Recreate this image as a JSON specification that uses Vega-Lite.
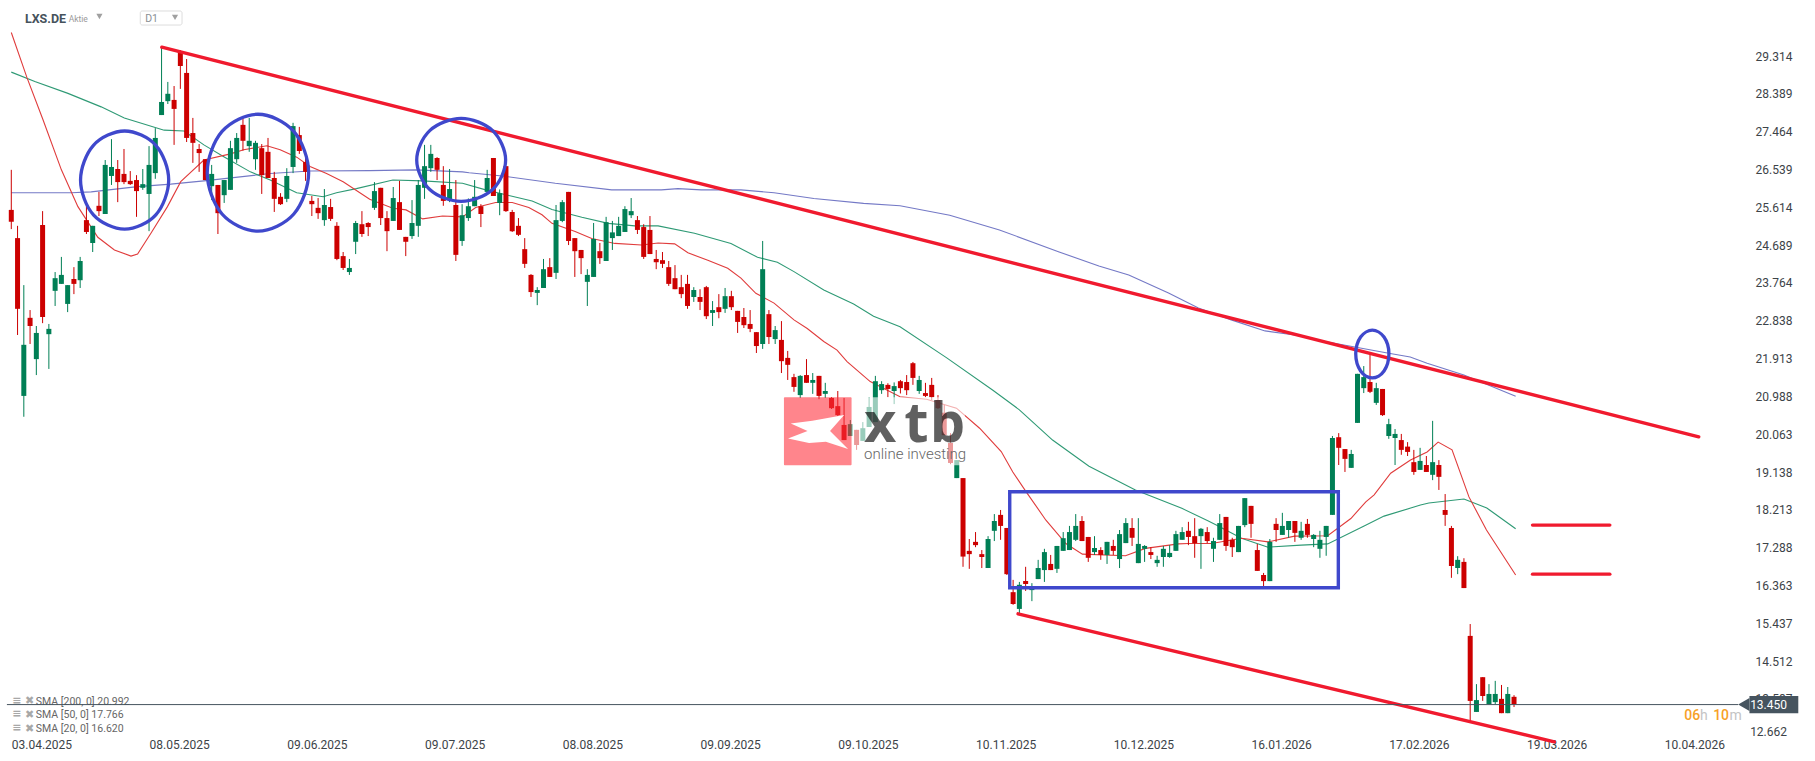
{"$schema":"https://vega.github.io/schema/vega-lite/v6.json","autosize":{"type":"none"},"width":1815,"height":761,"padding":0,"background":"#ffffff","view":{"stroke":null},"config":{"font":"Roboto","text":{"font":"Roboto"}},
"datasets":{
"candles":[
{"i":0,"o":25.55,"h":26.53,"l":25.08,"c":25.26},{"i":1,"o":24.86,"h":25.16,"l":22.49,"c":23.13},{"i":2,"o":21.0,"h":23.71,"l":20.49,"c":22.25},{"i":3,"o":22.91,"h":23.1,"l":22.27,"c":22.71},{"i":4,"o":21.9,"h":22.71,"l":21.51,"c":22.54},{"i":5,"o":25.18,"h":25.52,"l":22.78,"c":22.93},{"i":6,"o":22.51,"h":22.76,"l":21.66,"c":22.64},{"i":7,"o":23.57,"h":24.03,"l":23.2,"c":23.88},{"i":8,"o":23.74,"h":24.4,"l":23.74,"c":23.96},{"i":9,"o":23.25,"h":23.71,"l":23.05,"c":23.71},
{"i":10,"o":23.86,"h":24.15,"l":23.49,"c":23.74},{"i":11,"o":23.83,"h":24.4,"l":23.64,"c":24.3},{"i":12,"o":25.3,"h":25.67,"l":24.96,"c":25.01},{"i":13,"o":24.74,"h":25.16,"l":24.52,"c":25.16},{"i":14,"o":25.65,"h":25.99,"l":25.4,"c":25.52},{"i":15,"o":25.45,"h":26.77,"l":25.45,"c":26.65},{"i":16,"o":26.38,"h":27.28,"l":26.16,"c":26.6},{"i":17,"o":26.55,"h":26.77,"l":25.74,"c":26.23},{"i":18,"o":26.43,"h":27.04,"l":26.18,"c":26.23},{"i":19,"o":26.26,"h":26.5,"l":26.16,"c":26.18},
{"i":20,"o":26.28,"h":26.4,"l":25.38,"c":26.01},{"i":21,"o":26.09,"h":26.55,"l":26.04,"c":26.18},{"i":22,"o":25.94,"h":27.11,"l":25.03,"c":26.65},{"i":23,"o":26.45,"h":27.55,"l":26.31,"c":27.31},{"i":24,"o":27.87,"h":29.54,"l":27.87,"c":28.19},{"i":25,"o":28.21,"h":28.68,"l":28.14,"c":28.39},{"i":26,"o":28.24,"h":28.58,"l":27.14,"c":28.02},{"i":27,"o":29.41,"h":29.46,"l":28.51,"c":29.07},{"i":28,"o":28.9,"h":29.24,"l":27.21,"c":27.31},{"i":29,"o":27.43,"h":27.8,"l":26.7,"c":27.19},
{"i":30,"o":27.04,"h":27.16,"l":26.48,"c":26.94},{"i":31,"o":26.79,"h":26.79,"l":26.28,"c":26.28},{"i":32,"o":26.13,"h":26.65,"l":25.79,"c":26.43},{"i":33,"o":26.16,"h":26.16,"l":24.96,"c":25.47},{"i":34,"o":25.91,"h":26.28,"l":25.72,"c":26.28},{"i":35,"o":26.04,"h":27.24,"l":26.04,"c":27.06},{"i":36,"o":26.79,"h":27.43,"l":26.7,"c":27.31},{"i":37,"o":27.63,"h":27.82,"l":27.0,"c":27.24},{"i":38,"o":27.11,"h":27.8,"l":26.97,"c":27.24},{"i":39,"o":26.79,"h":27.24,"l":26.53,"c":27.19},
{"i":40,"o":27.06,"h":27.16,"l":25.94,"c":26.4},{"i":41,"o":26.97,"h":27.31,"l":26.33,"c":26.33},{"i":42,"o":26.33,"h":26.48,"l":25.5,"c":25.82},{"i":43,"o":25.87,"h":25.96,"l":25.67,"c":25.69},{"i":44,"o":25.82,"h":26.57,"l":25.74,"c":26.38},{"i":45,"o":26.6,"h":27.68,"l":26.45,"c":27.6},{"i":46,"o":27.38,"h":27.58,"l":26.92,"c":26.99},{"i":47,"o":26.72,"h":26.89,"l":26.26,"c":26.48},{"i":48,"o":25.77,"h":25.89,"l":25.4,"c":25.69},{"i":49,"o":25.6,"h":25.84,"l":25.33,"c":25.47},
{"i":50,"o":25.3,"h":26.06,"l":25.16,"c":25.67},{"i":51,"o":25.62,"h":25.82,"l":25.28,"c":25.33},{"i":52,"o":25.16,"h":25.25,"l":24.32,"c":24.35},{"i":53,"o":24.42,"h":24.52,"l":24.08,"c":24.13},{"i":54,"o":24.03,"h":24.35,"l":23.96,"c":24.13},{"i":55,"o":24.77,"h":25.28,"l":24.47,"c":25.23},{"i":56,"o":25.2,"h":25.52,"l":24.89,"c":24.96},{"i":57,"o":25.23,"h":25.25,"l":24.91,"c":25.13},{"i":58,"o":25.6,"h":26.23,"l":25.55,"c":26.01},{"i":59,"o":26.09,"h":26.09,"l":25.18,"c":25.35},
{"i":60,"o":25.35,"h":25.52,"l":24.54,"c":25.03},{"i":61,"o":25.28,"h":26.11,"l":25.28,"c":25.84},{"i":62,"o":25.74,"h":26.26,"l":25.06,"c":25.06},{"i":63,"o":24.89,"h":24.89,"l":24.42,"c":24.77},{"i":64,"o":24.91,"h":25.79,"l":24.84,"c":25.23},{"i":65,"o":25.16,"h":26.28,"l":24.89,"c":26.16},{"i":66,"o":26.09,"h":27.14,"l":25.82,"c":26.62},{"i":67,"o":26.57,"h":27.14,"l":26.48,"c":26.92},{"i":68,"o":26.82,"h":26.84,"l":26.28,"c":26.53},{"i":69,"o":26.16,"h":26.62,"l":25.65,"c":25.77},
{"i":70,"o":25.79,"h":26.55,"l":25.74,"c":26.06},{"i":71,"o":25.67,"h":26.28,"l":24.3,"c":24.45},{"i":72,"o":24.79,"h":25.69,"l":24.67,"c":25.42},{"i":73,"o":25.35,"h":25.83,"l":25.28,"c":25.64},{"i":74,"o":25.64,"h":26.28,"l":25.64,"c":25.87},{"i":75,"o":25.64,"h":25.69,"l":25.13,"c":25.45},{"i":76,"o":25.99,"h":26.53,"l":25.94,"c":26.33},{"i":77,"o":26.82,"h":26.82,"l":25.89,"c":25.89},{"i":78,"o":25.72,"h":26.05,"l":25.42,"c":25.96},{"i":79,"o":26.62,"h":26.62,"l":25.5,"c":25.52},
{"i":80,"o":25.5,"h":25.55,"l":25.01,"c":25.03},{"i":81,"o":25.16,"h":25.35,"l":24.91,"c":24.94},{"i":82,"o":24.59,"h":24.86,"l":24.13,"c":24.23},{"i":83,"o":23.96,"h":23.98,"l":23.42,"c":23.54},{"i":84,"o":23.52,"h":23.66,"l":23.22,"c":23.59},{"i":85,"o":23.64,"h":24.35,"l":23.64,"c":24.1},{"i":86,"o":24.15,"h":24.37,"l":23.91,"c":23.91},{"i":87,"o":24.01,"h":25.67,"l":23.86,"c":25.3},{"i":88,"o":25.28,"h":25.79,"l":25.25,"c":25.74},{"i":89,"o":25.99,"h":25.99,"l":24.69,"c":24.79},
{"i":90,"o":24.86,"h":24.86,"l":23.91,"c":24.54},{"i":91,"o":24.57,"h":24.57,"l":23.98,"c":24.37},{"i":92,"o":23.79,"h":24.1,"l":23.2,"c":23.96},{"i":93,"o":23.91,"h":25.23,"l":23.91,"c":24.84},{"i":94,"o":24.54,"h":24.74,"l":24.23,"c":24.37},{"i":95,"o":24.3,"h":25.38,"l":24.3,"c":25.25},{"i":96,"o":24.86,"h":25.28,"l":24.57,"c":25.0},{"i":97,"o":24.91,"h":25.38,"l":24.91,"c":25.16},{"i":98,"o":25.01,"h":25.64,"l":25.01,"c":25.57},{"i":99,"o":25.42,"h":25.84,"l":25.35,"c":25.52},
{"i":100,"o":25.3,"h":25.4,"l":24.96,"c":25.06},{"i":101,"o":25.13,"h":25.2,"l":24.35,"c":24.4},{"i":102,"o":25.06,"h":25.4,"l":24.47,"c":24.47},{"i":103,"o":24.35,"h":24.57,"l":24.1,"c":24.27},{"i":104,"o":24.32,"h":24.52,"l":24.13,"c":24.23},{"i":105,"o":24.15,"h":24.3,"l":23.69,"c":23.74},{"i":106,"o":23.88,"h":24.2,"l":23.61,"c":23.61},{"i":107,"o":23.66,"h":23.96,"l":23.39,"c":23.49},{"i":108,"o":23.74,"h":23.96,"l":23.13,"c":23.2},{"i":109,"o":23.42,"h":23.66,"l":23.3,"c":23.59},
{"i":110,"o":23.42,"h":23.61,"l":23.1,"c":23.3},{"i":111,"o":23.66,"h":23.69,"l":22.88,"c":22.95},{"i":112,"o":23.03,"h":23.32,"l":22.71,"c":23.1},{"i":113,"o":23.17,"h":23.49,"l":22.9,"c":23.05},{"i":114,"o":23.13,"h":23.64,"l":23.03,"c":23.44},{"i":115,"o":23.44,"h":23.57,"l":23.1,"c":23.17},{"i":116,"o":23.08,"h":23.08,"l":22.54,"c":22.81},{"i":117,"o":22.93,"h":23.15,"l":22.66,"c":22.73},{"i":118,"o":22.76,"h":23.1,"l":22.56,"c":22.64},{"i":119,"o":22.56,"h":22.56,"l":22.05,"c":22.22},
{"i":120,"o":22.27,"h":24.79,"l":22.15,"c":24.1},{"i":121,"o":23.0,"h":23.1,"l":22.27,"c":22.44},{"i":122,"o":22.39,"h":22.71,"l":22.27,"c":22.61},{"i":123,"o":22.37,"h":22.83,"l":21.56,"c":21.85},{"i":124,"o":21.93,"h":22.1,"l":21.39,"c":21.76},{"i":125,"o":21.46,"h":21.54,"l":21.1,"c":21.22},{"i":126,"o":21.02,"h":21.51,"l":20.95,"c":21.49},{"i":127,"o":21.51,"h":21.9,"l":21.32,"c":21.32},{"i":128,"o":21.32,"h":21.56,"l":21.05,"c":21.39},{"i":129,"o":21.49,"h":21.49,"l":20.92,"c":21.0},
{"i":130,"o":21.05,"h":21.32,"l":20.95,"c":21.12},{"i":131,"o":20.95,"h":20.97,"l":20.68,"c":20.7},{"i":132,"o":20.75,"h":21.12,"l":20.51,"c":20.53},{"i":133,"o":20.29,"h":20.95,"l":19.92,"c":19.92},{"i":134,"o":20.02,"h":20.41,"l":20.02,"c":20.31},{"i":135,"o":20.17,"h":20.17,"l":19.68,"c":19.8},{"i":136,"o":19.9,"h":20.36,"l":19.9,"c":20.21},{"i":137,"o":20.24,"h":20.97,"l":20.24,"c":20.73},{"i":138,"o":20.36,"h":21.49,"l":20.36,"c":21.36},{"i":139,"o":21.14,"h":21.36,"l":21.05,"c":21.29},
{"i":140,"o":21.27,"h":21.31,"l":20.97,"c":21.17},{"i":141,"o":21.12,"h":21.33,"l":20.8,"c":21.24},{"i":142,"o":21.36,"h":21.39,"l":21.06,"c":21.19},{"i":143,"o":21.34,"h":21.51,"l":21.02,"c":21.14},{"i":144,"o":21.8,"h":21.83,"l":21.27,"c":21.44},{"i":145,"o":21.12,"h":21.49,"l":21.05,"c":21.39},{"i":146,"o":21.07,"h":21.32,"l":20.97,"c":21.0},{"i":147,"o":21.27,"h":21.44,"l":20.9,"c":20.97},{"i":148,"o":20.9,"h":21.02,"l":20.68,"c":20.7},{"i":149,"o":20.59,"h":20.78,"l":20.04,"c":20.04},
{"i":150,"o":19.85,"h":20.09,"l":19.33,"c":19.36},{"i":151,"o":18.99,"h":19.43,"l":18.99,"c":19.43},{"i":152,"o":18.99,"h":18.99,"l":16.82,"c":17.07},{"i":153,"o":17.21,"h":17.5,"l":16.77,"c":17.13},{"i":154,"o":17.43,"h":17.67,"l":17.3,"c":17.35},{"i":155,"o":17.13,"h":17.23,"l":16.79,"c":17.06},{"i":156,"o":16.79,"h":17.57,"l":16.79,"c":17.5},{"i":157,"o":17.7,"h":18.11,"l":17.45,"c":17.94},{"i":158,"o":18.09,"h":18.21,"l":17.48,"c":17.82},{"i":159,"o":17.77,"h":17.77,"l":16.62,"c":16.64},
{"i":160,"o":16.2,"h":16.5,"l":15.89,"c":15.91},{"i":161,"o":15.79,"h":16.45,"l":15.67,"c":16.38},{"i":162,"o":16.47,"h":16.82,"l":16.23,"c":16.4},{"i":163,"o":16.25,"h":16.42,"l":15.98,"c":16.3},{"i":164,"o":16.52,"h":16.99,"l":16.52,"c":16.79},{"i":165,"o":16.74,"h":17.26,"l":16.45,"c":17.18},{"i":166,"o":16.89,"h":17.11,"l":16.74,"c":16.74},{"i":167,"o":16.77,"h":17.33,"l":16.67,"c":17.33},{"i":168,"o":17.21,"h":17.67,"l":17.21,"c":17.52},{"i":169,"o":17.23,"h":17.82,"l":17.23,"c":17.67},
{"i":170,"o":17.48,"h":18.11,"l":17.45,"c":17.82},{"i":171,"o":17.94,"h":18.06,"l":17.45,"c":17.45},{"i":172,"o":17.55,"h":17.55,"l":16.94,"c":17.04},{"i":173,"o":17.18,"h":17.57,"l":17.11,"c":17.28},{"i":174,"o":17.23,"h":17.3,"l":16.99,"c":17.11},{"i":175,"o":17.11,"h":17.43,"l":16.89,"c":17.43},{"i":176,"o":17.33,"h":17.48,"l":17.11,"c":17.21},{"i":177,"o":17.01,"h":17.72,"l":16.79,"c":17.62},{"i":178,"o":17.4,"h":18.01,"l":17.4,"c":17.89},{"i":179,"o":17.77,"h":18.01,"l":17.33,"c":17.53},
{"i":180,"o":16.91,"h":18.01,"l":16.91,"c":17.38},{"i":181,"o":17.26,"h":17.35,"l":16.94,"c":17.33},{"i":182,"o":17.18,"h":17.3,"l":17.01,"c":17.11},{"i":183,"o":16.91,"h":17.09,"l":16.82,"c":16.99},{"i":184,"o":17.06,"h":17.33,"l":16.82,"c":17.26},{"i":185,"o":17.06,"h":17.35,"l":17.04,"c":17.16},{"i":186,"o":17.21,"h":17.7,"l":17.21,"c":17.62},{"i":187,"o":17.48,"h":17.79,"l":17.48,"c":17.67},{"i":188,"o":17.7,"h":17.92,"l":17.35,"c":17.55},{"i":189,"o":17.57,"h":18.01,"l":17.04,"c":17.4},
{"i":190,"o":17.57,"h":17.77,"l":16.77,"c":17.75},{"i":191,"o":17.67,"h":17.79,"l":17.4,"c":17.45},{"i":192,"o":17.26,"h":17.53,"l":16.94,"c":17.45},{"i":193,"o":17.48,"h":18.11,"l":17.48,"c":17.89},{"i":194,"o":18.04,"h":18.04,"l":17.21,"c":17.33},{"i":195,"o":17.48,"h":17.53,"l":17.06,"c":17.3},{"i":196,"o":17.18,"h":17.82,"l":17.18,"c":17.82},{"i":197,"o":17.84,"h":18.5,"l":17.79,"c":18.5},{"i":198,"o":18.31,"h":18.31,"l":17.53,"c":17.87},{"i":199,"o":17.23,"h":17.38,"l":16.72,"c":16.72},
{"i":200,"o":16.62,"h":16.67,"l":16.35,"c":16.47},{"i":201,"o":16.47,"h":17.5,"l":16.47,"c":17.43},{"i":202,"o":17.87,"h":18.01,"l":17.43,"c":17.72},{"i":203,"o":17.6,"h":18.14,"l":17.6,"c":17.82},{"i":204,"o":17.72,"h":17.94,"l":17.53,"c":17.94},{"i":205,"o":17.94,"h":17.94,"l":17.43,"c":17.65},{"i":206,"o":17.53,"h":17.92,"l":17.48,"c":17.7},{"i":207,"o":17.87,"h":17.99,"l":17.53,"c":17.6},{"i":208,"o":17.5,"h":17.62,"l":17.3,"c":17.6},{"i":209,"o":17.26,"h":17.7,"l":17.04,"c":17.48},
{"i":210,"o":17.55,"h":17.82,"l":17.09,"c":17.82},{"i":211,"o":18.09,"h":20.02,"l":18.09,"c":19.97},{"i":212,"o":19.99,"h":20.09,"l":19.31,"c":19.73},{"i":213,"o":19.7,"h":19.7,"l":19.14,"c":19.46},{"i":214,"o":19.24,"h":19.68,"l":19.24,"c":19.58},{"i":215,"o":20.34,"h":21.54,"l":20.34,"c":21.54},{"i":216,"o":21.19,"h":21.73,"l":21.07,"c":21.46},{"i":217,"o":21.34,"h":22.04,"l":21.07,"c":21.1},{"i":218,"o":20.83,"h":21.32,"l":20.78,"c":21.19},{"i":219,"o":21.17,"h":21.17,"l":20.51,"c":20.53},
{"i":220,"o":20.02,"h":20.44,"l":19.95,"c":20.31},{"i":221,"o":19.97,"h":20.19,"l":19.31,"c":20.07},{"i":222,"o":19.92,"h":20.07,"l":19.56,"c":19.68},{"i":223,"o":19.76,"h":19.87,"l":19.53,"c":19.63},{"i":224,"o":19.38,"h":19.68,"l":19.07,"c":19.14},{"i":225,"o":19.19,"h":19.73,"l":19.19,"c":19.41},{"i":226,"o":19.31,"h":19.53,"l":19.14,"c":19.14},{"i":227,"o":19.07,"h":20.39,"l":18.94,"c":19.38},{"i":228,"o":19.31,"h":19.43,"l":18.7,"c":19.02},{"i":229,"o":18.21,"h":18.6,"l":17.82,"c":18.09},
{"i":230,"o":17.77,"h":17.82,"l":16.55,"c":16.84},{"i":231,"o":16.79,"h":17.08,"l":16.64,"c":16.99},{"i":232,"o":16.94,"h":17.03,"l":16.3,"c":16.3},{"i":233,"o":15.13,"h":15.42,"l":13.02,"c":13.54},{"i":234,"o":13.27,"h":13.95,"l":13.27,"c":13.56},{"i":235,"o":14.12,"h":14.12,"l":13.54,"c":13.66},{"i":236,"o":13.46,"h":13.95,"l":13.46,"c":13.71},{"i":237,"o":13.51,"h":14.03,"l":13.46,"c":13.71},{"i":238,"o":13.59,"h":13.93,"l":13.24,"c":13.24},{"i":239,"o":13.24,"h":13.88,"l":13.24,"c":13.71},{"i":240,"o":13.64,"h":13.68,"l":13.39,"c":13.46}
],
"sma20":[{"i":0,"p":29.89},{"i":2.49,"p":28.79},{"i":5.08,"p":27.75},{"i":8,"p":26.53},{"i":10.64,"p":25.63},{"i":13.82,"p":24.88},{"i":16.47,"p":24.57},{"i":19.12,"p":24.42},{"i":20.17,"p":24.47},{"i":22.3,"p":24.98},{"i":24.94,"p":25.63},{"i":27.06,"p":26.24},{"i":30.76,"p":26.77},{"i":35,"p":26.92},{"i":37.11,"p":27.02},{"i":40.82,"p":27.12},{"i":42.94,"p":27.02},{"i":45.58,"p":26.84},{"i":47.71,"p":26.61},{"i":50.35,"p":26.44},{"i":53,"p":26.24},{"i":57.24,"p":25.81},{"i":60.94,"p":25.59},{"i":63.05,"p":25.55},{"i":65.7,"p":25.33},{"i":68.88,"p":25.4},{"i":72.06,"p":25.38},{"i":74.17,"p":25.61},{"i":77.35,"p":25.73},{"i":80,"p":25.73},{"i":82.65,"p":25.61},{"i":84.76,"p":25.43},{"i":86.35,"p":25.22},{"i":90.05,"p":25.02},{"i":92.7,"p":24.85},{"i":96.41,"p":24.73},{"i":100.65,"p":24.69},{"i":103.3,"p":24.74},{"i":105.95,"p":24.72},{"i":108.06,"p":24.5},{"i":111.24,"p":24.32},{"i":114.42,"p":24.12},{"i":116.53,"p":23.88},{"i":118.91,"p":23.51},{"i":121.82,"p":23.27},{"i":125,"p":22.86},{"i":127.12,"p":22.65},{"i":129.76,"p":22.33},{"i":131.88,"p":22.12},{"i":133.48,"p":21.84},{"i":137.18,"p":21.35},{"i":141.94,"p":20.98},{"i":146.18,"p":20.92},{"i":150.95,"p":20.7},{"i":154.65,"p":20.21},{"i":158.1,"p":19.64},{"i":159.95,"p":19.14},{"i":162.06,"p":18.66},{"i":165.24,"p":17.96},{"i":168.42,"p":17.39},{"i":171.06,"p":17.13},{"i":177.95,"p":17.09},{"i":181.13,"p":17.27},{"i":186.42,"p":17.38},{"i":188,"p":17.39},{"i":191.7,"p":17.39},{"i":196.47,"p":17.52},{"i":200.71,"p":17.43},{"i":204.95,"p":17.57},{"i":210.24,"p":17.58},{"i":213.94,"p":18.0},{"i":216.33,"p":18.41},{"i":217.66,"p":18.58},{"i":220.3,"p":19.11},{"i":223.47,"p":19.43},{"i":226.12,"p":19.63},{"i":227.88,"p":19.87},{"i":230.1,"p":19.68},{"i":232.8,"p":18.53},{"i":235.6,"p":17.72},{"i":240.26,"p":16.62}],
"sma50":[{"i":0,"p":28.92},{"i":3.76,"p":28.69},{"i":9.05,"p":28.4},{"i":14.35,"p":28.07},{"i":18.05,"p":27.8},{"i":24.41,"p":27.5},{"i":27.58,"p":27.48},{"i":30.76,"p":27.14},{"i":33.94,"p":26.85},{"i":38.18,"p":26.48},{"i":41.35,"p":26.28},{"i":45.58,"p":25.97},{"i":49.82,"p":25.87},{"i":51.94,"p":25.97},{"i":55.11,"p":26.07},{"i":60.94,"p":26.28},{"i":65.7,"p":26.26},{"i":72.06,"p":26.2},{"i":75.76,"p":26.04},{"i":79.47,"p":25.9},{"i":83.18,"p":25.77},{"i":86.35,"p":25.56},{"i":91.12,"p":25.37},{"i":95.35,"p":25.22},{"i":99.58,"p":25.16},{"i":103.3,"p":25.16},{"i":109.11,"p":24.98},{"i":114.94,"p":24.73},{"i":119.18,"p":24.39},{"i":122.35,"p":24.27},{"i":125,"p":24.04},{"i":129.76,"p":23.59},{"i":134.53,"p":23.25},{"i":137.71,"p":22.95},{"i":141.94,"p":22.69},{"i":149.4,"p":21.93},{"i":156.77,"p":21.14},{"i":161,"p":20.66},{"i":166.3,"p":19.92},{"i":172.12,"p":19.28},{"i":179.53,"p":18.7},{"i":186.94,"p":18.25},{"i":191.18,"p":17.94},{"i":192.76,"p":17.82},{"i":196.47,"p":17.52},{"i":200.71,"p":17.3},{"i":206,"p":17.35},{"i":210.24,"p":17.38},{"i":216.06,"p":17.82},{"i":219.24,"p":18.06},{"i":225.06,"p":18.33},{"i":226.4,"p":18.38},{"i":232,"p":18.48},{"i":235.65,"p":18.26},{"i":240.26,"p":17.75}],
"sma200":[{"i":0,"p":25.97},{"i":9.58,"p":25.97},{"i":12.76,"p":25.99},{"i":20.17,"p":26.12},{"i":25.47,"p":26.18},{"i":30.76,"p":26.26},{"i":41.35,"p":26.44},{"i":47.71,"p":26.5},{"i":57.24,"p":26.51},{"i":64.64,"p":26.53},{"i":72.06,"p":26.48},{"i":73.12,"p":26.46},{"i":78.41,"p":26.38},{"i":86.88,"p":26.2},{"i":95.88,"p":26.04},{"i":103.82,"p":26.04},{"i":106.47,"p":26.07},{"i":110.18,"p":26.04},{"i":116.53,"p":26.04},{"i":121.82,"p":25.97},{"i":128.18,"p":25.83},{"i":136.12,"p":25.71},{"i":141.94,"p":25.65},{"i":149.88,"p":25.42},{"i":157.82,"p":25.06},{"i":167.35,"p":24.52},{"i":173.7,"p":24.18},{"i":178.47,"p":23.96},{"i":184.82,"p":23.52},{"i":189.59,"p":23.15},{"i":194.83,"p":22.86},{"i":200.24,"p":22.59},{"i":205,"p":22.49},{"i":210.24,"p":22.32},{"i":219.77,"p":22.05},{"i":223.42,"p":21.95},{"i":226.12,"p":21.8},{"i":232,"p":21.51},{"i":240.26,"p":20.99}],
"circles":[
{"e":1,"n":0,"i":25.14,"p":26.28},{"e":1,"n":1,"i":23.08,"p":27.13},{"e":1,"n":2,"i":18.1,"p":27.48},{"e":1,"n":3,"i":13.12,"p":27.13},{"e":1,"n":4,"i":11.06,"p":26.28},{"e":1,"n":5,"i":13.12,"p":25.43},{"e":1,"n":6,"i":18.1,"p":25.08},{"e":1,"n":7,"i":23.08,"p":25.43},
{"e":2,"n":0,"i":47.49,"p":26.46},{"e":2,"n":1,"i":45.12,"p":27.47},{"e":2,"n":2,"i":39.39,"p":27.89},{"e":2,"n":3,"i":33.66,"p":27.47},{"e":2,"n":4,"i":31.29,"p":26.46},{"e":2,"n":5,"i":33.66,"p":25.45},{"e":2,"n":6,"i":39.39,"p":25.03},{"e":2,"n":7,"i":45.12,"p":25.45},
{"e":3,"n":0,"i":78.95,"p":26.77},{"e":3,"n":1,"i":76.87,"p":27.49},{"e":3,"n":2,"i":71.85,"p":27.79},{"e":3,"n":3,"i":66.83,"p":27.49},{"e":3,"n":4,"i":64.75,"p":26.77},{"e":3,"n":5,"i":66.83,"p":26.05},{"e":3,"n":6,"i":71.85,"p":25.76},{"e":3,"n":7,"i":76.87,"p":26.05},
{"e":4,"n":0,"i":220.02,"p":22.03},{"e":4,"n":1,"i":219.24,"p":22.44},{"e":4,"n":2,"i":217.37,"p":22.61},{"e":4,"n":3,"i":215.5,"p":22.44},{"e":4,"n":4,"i":214.72,"p":22.03},{"e":4,"n":5,"i":215.5,"p":21.61},{"e":4,"n":6,"i":217.37,"p":21.44},{"e":4,"n":7,"i":219.24,"p":21.61}
],
"trends":[{"i":24.04,"i2":269.5,"p":29.53,"p2":20.0},{"i":160.79,"i2":246.45,"p":15.67,"p2":12.54},{"i":242.96,"i2":255.3,"p":17.84,"p2":17.84},{"i":242.96,"i2":255.3,"p":16.64,"p2":16.64}]
},
"layer":[
{"data":{"name":"sma200"},"mark":{"type":"line","color":"#7479c6","strokeWidth":1.1},"encoding":{
"x":{"field":"i","type":"quantitative","title":null,"scale":{"domain":[-1.005,287.27],"nice":false,"zero":false},"axis":{"orient":"bottom","offset":-22,"title":null,"domain":false,"ticks":false,"grid":false,"labelPadding":0,"labelAlign":"left","labelBaseline":"top","labelFontSize":12,"labelColor":"#3c4348","labelFont":"Roboto","labelFlush":false,"labelOverlap":false,"labelBound":false,"values":[0,22,44,66,88,110,132,154,176,198,220,242,264],"labelExpr":"['03.04.2025','08.05.2025','09.06.2025','09.07.2025','08.08.2025','09.09.2025','09.10.2025','10.11.2025','10.12.2025','16.01.2026','17.02.2026','19.03.2026','10.04.2026'][round(datum.value/22)]"}},
"y":{"field":"p","type":"quantitative","title":null,"scale":{"domain":[12.07,30.684],"nice":false,"zero":false},"axis":{"orient":"left","offset":-1792,"title":null,"domain":false,"ticks":false,"grid":false,"labelPadding":0,"labelFontSize":12,"labelColor":"#3c4348","labelFont":"Roboto","labelOverlap":false,"labelBound":false,"format":".3f","values":[29.314,28.389,27.464,26.539,25.614,24.689,23.764,22.838,21.913,20.988,20.063,19.138,18.213,17.288,16.363,15.437,14.512,13.587]}}}},
{"data":{"name":"sma50"},"mark":{"type":"line","color":"#2f9a75","strokeWidth":1.1},"encoding":{"x":{"field":"i","type":"quantitative"},"y":{"field":"p","type":"quantitative"}}},
{"data":{"name":"sma20"},"mark":{"type":"line","color":"#e03c3c","strokeWidth":1.1},"encoding":{"x":{"field":"i","type":"quantitative"},"y":{"field":"p","type":"quantitative"}}},
{"data":{"name":"candles"},"mark":{"type":"rule","strokeWidth":1},"encoding":{"x":{"field":"i","type":"quantitative"},"y":{"field":"h","type":"quantitative"},"y2":{"field":"l"},"color":{"condition":{"test":"datum.c>datum.o","value":"#007f55"},"value":"#cc0000"}}},
{"data":{"name":"candles"},"mark":{"type":"bar","size":5,"orient":"vertical"},"encoding":{"x":{"field":"i","type":"quantitative"},"y":{"field":"o","type":"quantitative"},"y2":{"field":"c"},"color":{"condition":{"test":"datum.c>datum.o","value":"#007f55"},"value":"#cc0000"}}},
{"data":{"name":"trends"},"mark":{"type":"rule","color":"#f01a2e","strokeWidth":3.4,"strokeCap":"round"},"encoding":{"x":{"field":"i","type":"quantitative"},"x2":{"field":"i2"},"y":{"field":"p","type":"quantitative"},"y2":{"field":"p2"}}},
{"data":{"name":"circles"},"mark":{"type":"line","color":"#3f48cc","strokeWidth":3.3,"interpolate":"cardinal-closed"},"encoding":{"x":{"field":"i","type":"quantitative"},"y":{"field":"p","type":"quantitative"},"detail":{"field":"e"},"order":{"field":"n"}}},
{"data":{"values":[{"i":159.46,"i2":211.94,"p":18.657,"p2":16.309}]},"mark":{"type":"rect","fillOpacity":0,"stroke":"#3f48cc","strokeWidth":3.4},"encoding":{"x":{"field":"i","type":"quantitative"},"x2":{"field":"i2"},"y":{"field":"p","type":"quantitative"},"y2":{"field":"p2"}}},
{"data":{"values":[{"i":134.2,"i2":152.3,"p":20.966,"p2":19.302}]},"mark":{"type":"rect","fill":"#ffffff","opacity":0.6},"encoding":{"x":{"field":"i","type":"quantitative"},"x2":{"field":"i2"},"y":{"field":"p","type":"quantitative"},"y2":{"field":"p2"}}},
{"data":{"values":[{"i":123.4,"i2":134.2,"p":20.966,"p2":19.302}]},"mark":{"type":"rect","fill":"#ff2f3b","opacity":0.59,"cornerRadius":1},"encoding":{"x":{"field":"i","type":"quantitative"},"x2":{"field":"i2"},"y":{"field":"p","type":"quantitative"},"y2":{"field":"p2"}}},
{"data":{"values":[{"i":128.75,"p":20.12}]},"mark":{"type":"point","filled":true,"opacity":1,"fill":"#ffffff","size":3600,"shape":"M-0.89,-0.28L-0.17,-0.37L0.89,-0.56L0.42,-0.03L1.02,0.57L0.28,0.33L-0.28,0.37L-0.98,0.22L-0.33,-0.03Z"},"encoding":{"x":{"field":"i","type":"quantitative"},"y":{"field":"p","type":"quantitative"}}},
{"data":{"values":[{"i":136.2,"p":19.88,"t":"x"},{"i":142.6,"p":19.88,"t":"t"},{"i":146.7,"p":19.88,"t":"b"}]},"mark":{"type":"text","font":"Open Sans","fontWeight":"bold","fontSize":56,"align":"left","baseline":"alphabetic","color":"#000000","opacity":0.62},"encoding":{"x":{"field":"i","type":"quantitative"},"y":{"field":"p","type":"quantitative"},"text":{"field":"t"}}},
{"data":{"values":[{"i":136.2,"p":19.46,"t":"online investing"}]},"mark":{"type":"text","font":"Roboto","fontWeight":300,"fontSize":15,"align":"left","baseline":"alphabetic","color":"#666666"},"encoding":{"x":{"field":"i","type":"quantitative"},"y":{"field":"p","type":"quantitative"},"text":{"field":"t"}}},
{"data":{"values":[{"i":2.17,"p":30.226,"t":"LXS.DE"}]},"mark":{"type":"text","font":"Roboto","fontWeight":"bold","fontSize":12.5,"align":"left","color":"#46525c"},"encoding":{"x":{"field":"i","type":"quantitative"},"y":{"field":"p","type":"quantitative"},"text":{"field":"t"}}},
{"data":{"values":[{"i":9.16,"p":30.22,"t":"Aktie"}]},"mark":{"type":"text","font":"Roboto","fontSize":8.5,"align":"left","color":"#9a9a9a"},"encoding":{"x":{"field":"i","type":"quantitative"},"y":{"field":"p","type":"quantitative"},"text":{"field":"t"}}},
{"data":{"values":[{"i":20.6,"i2":27.27,"p":30.415,"p2":30.072}]},"mark":{"type":"rect","fill":"#ffffff","stroke":"#dddddd","strokeWidth":1,"cornerRadius":2},"encoding":{"x":{"field":"i","type":"quantitative"},"x2":{"field":"i2"},"y":{"field":"p","type":"quantitative"},"y2":{"field":"p2"}}},
{"data":{"values":[{"i":21.39,"p":30.22,"t":"D1"}]},"mark":{"type":"text","font":"Roboto","fontSize":10.5,"align":"left","color":"#8a8f94"},"encoding":{"x":{"field":"i","type":"quantitative"},"y":{"field":"p","type":"quantitative"},"text":{"field":"t"}}},
{"data":{"values":[{"i":14.08,"p":30.28},{"i":26.15,"p":30.26}]},"mark":{"type":"point","shape":"triangle-down","filled":true,"opacity":1,"color":"#a0a0a0","size":38},"encoding":{"x":{"field":"i","type":"quantitative"},"y":{"field":"p","type":"quantitative"}}},
{"data":{"values":[{"i":3.92,"p":13.52,"t":"SMA  [200,  0]  20.992"},{"i":3.92,"p":13.19,"t":"SMA  [50,  0]  17.766"},{"i":3.92,"p":12.845,"t":"SMA  [20,  0]  16.620"}]},"mark":{"type":"text","font":"Roboto","fontSize":10.5,"align":"left","color":"#666666"},"encoding":{"x":{"field":"i","type":"quantitative"},"y":{"field":"p","type":"quantitative"},"text":{"field":"t"}}},
{"data":{"values":[{"i":0.15,"p":13.54,"t":"≡"},{"i":0.15,"p":13.21,"t":"≡"},{"i":0.15,"p":12.865,"t":"≡"},{"i":2.2,"p":13.53,"t":"✖"},{"i":2.2,"p":13.2,"t":"✖"},{"i":2.2,"p":12.855,"t":"✖"}]},"mark":{"type":"text","font":"DejaVu Sans","fontWeight":"bold","fontSize":11,"align":"left","color":"#a8a8a8"},"encoding":{"x":{"field":"i","type":"quantitative"},"y":{"field":"p","type":"quantitative"},"text":{"field":"t"}}},
{"data":{"values":[{"i":-0.7,"i2":275.8,"p":13.45,"p2":13.45}]},"mark":{"type":"rule","color":"#46545f","strokeWidth":1},"encoding":{"x":{"field":"i","type":"quantitative"},"x2":{"field":"i2"},"y":{"field":"p","type":"quantitative"},"y2":{"field":"p2"}}},
{"data":{"values":[{"i":277.6,"i2":285.4,"p":13.66,"p2":13.24}]},"mark":{"type":"rect","fill":"#46545f"},"encoding":{"x":{"field":"i","type":"quantitative"},"x2":{"field":"i2"},"y":{"field":"p","type":"quantitative"},"y2":{"field":"p2"}}},
{"data":{"values":[{"i":276.7,"p":13.45}]},"mark":{"type":"point","shape":"triangle-left","filled":true,"opacity":1,"color":"#46545f","size":170},"encoding":{"x":{"field":"i","type":"quantitative"},"y":{"field":"p","type":"quantitative"}}},
{"data":{"values":[{"i":283.6,"p":13.43,"t":"13.450"}]},"mark":{"type":"text","font":"Roboto","fontSize":12,"align":"right","color":"#ffffff"},"encoding":{"x":{"field":"i","type":"quantitative"},"y":{"field":"p","type":"quantitative"},"text":{"field":"t"}}},
{"data":{"values":[{"i":283.6,"p":12.662,"t":"12.662"}]},"mark":{"type":"text","font":"Roboto","fontSize":12,"align":"right","color":"#3c4348","dy":-5},"encoding":{"x":{"field":"i","type":"quantitative"},"y":{"field":"p","type":"quantitative"},"text":{"field":"t"}}},
{"data":{"values":[{"i":267.2,"p":13.17,"t":"06"},{"i":271.8,"p":13.17,"t":"10"}]},"mark":{"type":"text","font":"Roboto","fontWeight":500,"fontSize":14,"align":"left","color":"#f7a128"},"encoding":{"x":{"field":"i","type":"quantitative"},"y":{"field":"p","type":"quantitative"},"text":{"field":"t"}}},
{"data":{"values":[{"i":269.7,"p":13.17,"t":"h"},{"i":274.4,"p":13.17,"t":"m"}]},"mark":{"type":"text","font":"Roboto","fontSize":14,"align":"left","color":"#c4c4c4"},"encoding":{"x":{"field":"i","type":"quantitative"},"y":{"field":"p","type":"quantitative"},"text":{"field":"t"}}}
]}
